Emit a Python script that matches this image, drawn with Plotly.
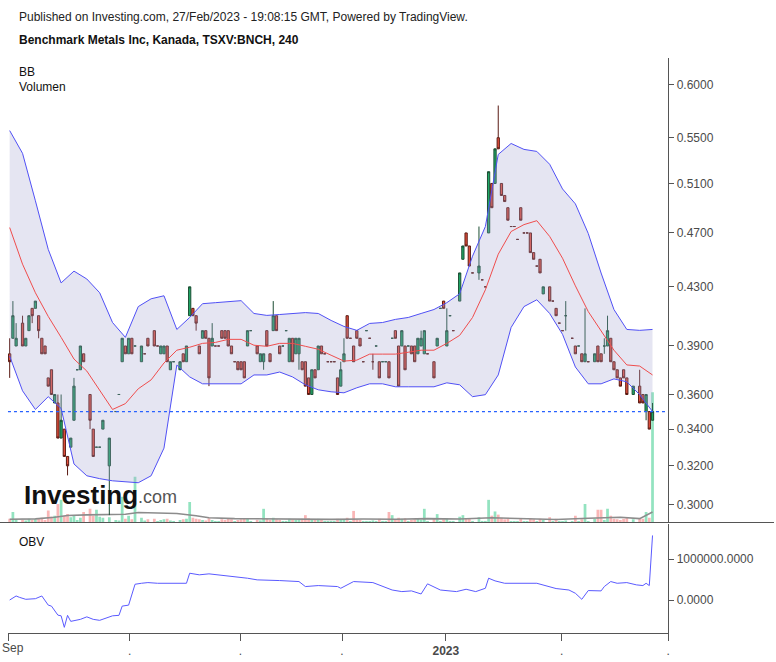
import plotly.graph_objects as go

# ---------------- data (4h bars, index = bar number) ----------------
open_ = [
    0.385, 0.395, 0.39, None, 0.405, 0.39, 0.40, 0.415, 0.415, 0.41,
    0.395, 0.39, 0.37, 0.375, 0.355, 0.355, 0.335, 0.34, 0.325, 0.33,
    0.345, 0.375, 0.375, 0.385, None, 0.36, 0.34, 0.33, 0.33, 0.34,
    None, 0.32, None, 0.35, 0.36, 0.38, 0.39, 0.385, 0.395, 0.39,
    None, 0.38, 0.385, 0.395, None, 0.40, 0.39, 0.385, 0.385, 0.39,
    0.375, 0.38, None, 0.375, 0.385, 0.38, 0.41, 0.415, 0.41, 0.39,
    0.395, 0.40, 0.395, 0.39, 0.39, 0.39, 0.40, 0.40, 0.40, 0.39,
    0.38, 0.38, 0.38, 0.38, 0.39, 0.40, None, 0.39, 0.38, 0.38,
    0.40, 0.385, 0.40, 0.41, 0.39, 0.39, 0.40, 0.38, 0.395, 0.385,
    0.385, 0.38, 0.38, 0.37, 0.36, 0.375, 0.375, 0.39, 0.385, 0.38,
    0.38, 0.38, 0.37, 0.365, 0.38, 0.41, 0.395, 0.39, 0.40, 0.395,
    0.38, 0.40, 0.395, 0.38, 0.39, 0.38, 0.38, 0.38, 0.38, 0.395,
    0.40, 0.39, 0.39, 0.39, 0.39, 0.39, 0.39, 0.385, 0.39, 0.385,
    0.385, None, 0.38, 0.39, 0.415, 0.42, 0.39, 0.41, 0.40, None,
    0.42, 0.45, 0.47, 0.46, 0.44, None, 0.44, 0.435, 0.43, 0.47,
    0.51, 0.51, 0.55, 0.51, 0.50, 0.49, 0.475, 0.475, 0.465, 0.49,
    0.47, 0.47, 0.47, 0.455, 0.445, 0.45, 0.425, None, 0.43, 0.42,
    0.415, 0.405, 0.40, 0.41, None, 0.395, 0.39, 0.39, 0.385, 0.38,
    0.38, None, 0.38, 0.39, 0.385, 0.39, 0.39, 0.395, 0.38, 0.375,
    0.37, 0.375, 0.37, None, 0.36, None, 0.365, 0.36, 0.35, 0.35, 0.345,
]
high = [
    0.395, 0.42, 0.405, None, 0.41, 0.395, 0.41, 0.415, 0.42, 0.41,
    0.395, 0.39, 0.37, 0.375, 0.36, 0.36, 0.36, 0.34, 0.325, 0.335,
    0.37, 0.375, 0.39, 0.385, None, 0.36, 0.34, 0.33, 0.33, 0.345,
    None, 0.335, None, 0.35, 0.36, 0.395, 0.39, 0.395, 0.395, 0.39,
    None, 0.39, 0.385, 0.395, None, 0.40, 0.39, 0.39, 0.39, 0.39,
    0.38, 0.38, None, 0.38, 0.385, 0.39, 0.43, 0.415, 0.41, 0.39,
    0.40, 0.40, 0.395, 0.405, 0.39, 0.39, 0.40, 0.40, 0.40, 0.39,
    0.38, 0.38, 0.38, 0.38, 0.40, 0.40, None, 0.39, 0.385, 0.385,
    0.40, 0.385, 0.42, 0.41, 0.39, 0.39, 0.40, 0.395, 0.395, 0.395,
    0.395, 0.38, 0.38, 0.37, 0.375, 0.375, 0.39, 0.39, 0.385, 0.38,
    0.38, 0.38, 0.37, 0.38, 0.395, 0.41, 0.395, 0.39, 0.40, 0.395,
    0.38, 0.40, 0.395, 0.385, 0.39, 0.38, 0.38, 0.38, 0.38, 0.395,
    0.40, 0.39, 0.40, 0.39, 0.39, 0.39, 0.39, 0.395, 0.40, 0.40,
    0.385, None, 0.38, 0.395, 0.415, 0.42, 0.415, 0.41, 0.40, None,
    0.44, 0.46, 0.47, 0.46, 0.44, None, 0.475, 0.435, 0.43, 0.52,
    0.51, 0.54, 0.58, 0.51, 0.50, 0.49, 0.475, 0.475, 0.465, 0.49,
    0.47, 0.47, 0.47, 0.455, 0.445, 0.45, 0.43, None, 0.43, 0.42,
    0.415, 0.405, 0.40, 0.42, None, 0.395, 0.39, 0.39, 0.385, 0.415,
    0.38, None, 0.385, 0.39, 0.385, 0.395, 0.41, 0.395, 0.38, 0.375,
    0.37, 0.375, 0.37, None, 0.365, None, 0.375, 0.36, 0.36, 0.35, 0.355,
]
low = [
    0.37, 0.395, 0.39, None, 0.39, 0.39, 0.40, 0.405, 0.415, 0.395,
    0.385, 0.385, 0.365, 0.36, 0.355, 0.335, 0.335, 0.325, 0.315, 0.33,
    0.345, 0.375, 0.375, 0.38, None, 0.34, 0.325, 0.33, 0.33, 0.34,
    None, 0.295, None, 0.35, 0.36, 0.38, 0.385, 0.385, 0.385, 0.39,
    None, 0.38, 0.385, 0.39, None, 0.39, 0.39, 0.385, 0.385, 0.38,
    0.375, 0.38, None, 0.375, 0.38, 0.38, 0.41, 0.41, 0.40, 0.385,
    0.395, 0.395, 0.365, 0.39, 0.39, 0.39, 0.395, 0.395, 0.39, 0.385,
    0.38, 0.375, 0.375, 0.37, 0.39, 0.40, None, 0.385, 0.38, 0.375,
    0.39, 0.38, 0.40, 0.40, 0.385, 0.39, 0.40, 0.38, 0.38, 0.385,
    0.375, 0.375, 0.365, 0.36, 0.36, 0.37, 0.375, 0.385, 0.385, 0.38,
    0.38, 0.38, 0.36, 0.365, 0.38, 0.395, 0.395, 0.38, 0.395, 0.39,
    0.38, 0.40, 0.395, 0.375, 0.39, 0.37, 0.38, 0.38, 0.37, 0.395,
    0.395, 0.365, 0.39, 0.375, 0.39, 0.385, 0.38, 0.385, 0.39, 0.385,
    0.385, None, 0.37, 0.39, 0.415, 0.415, 0.39, 0.41, 0.40, None,
    0.42, 0.45, 0.46, 0.445, 0.44, None, 0.435, 0.435, 0.43, 0.47,
    0.49, 0.51, 0.54, 0.50, 0.495, 0.48, 0.475, 0.475, 0.465, 0.48,
    0.47, 0.47, 0.455, 0.45, 0.445, 0.44, 0.425, None, 0.42, 0.42,
    0.41, 0.405, 0.40, 0.40, None, 0.395, 0.385, 0.39, 0.38, 0.38,
    0.38, None, 0.38, 0.38, 0.38, 0.385, 0.39, 0.38, 0.375, 0.37,
    0.365, 0.37, 0.36, None, 0.36, None, 0.355, 0.355, 0.345, 0.34, 0.345,
]
close = [
    0.38, 0.41, 0.395, None, 0.39, 0.395, 0.41, 0.41, 0.42, 0.40,
    0.385, 0.385, 0.365, 0.36, 0.36, 0.335, 0.345, 0.325, 0.32, 0.335,
    0.365, 0.375, 0.39, 0.38, None, 0.345, 0.325, 0.33, 0.33, 0.345,
    None, 0.335, None, 0.35, 0.36, 0.395, 0.385, 0.395, 0.385, 0.39,
    None, 0.39, 0.385, 0.39, None, 0.39, 0.39, 0.39, 0.39, 0.38,
    0.38, 0.38, None, 0.38, 0.38, 0.39, 0.43, 0.41, 0.405, 0.385,
    0.40, 0.395, 0.37, 0.395, 0.39, 0.39, 0.395, 0.395, 0.39, 0.385,
    0.38, 0.375, 0.375, 0.37, 0.40, 0.40, None, 0.385, 0.385, 0.385,
    0.39, 0.38, 0.41, 0.40, 0.385, 0.39, 0.40, 0.395, 0.38, 0.395,
    0.395, 0.375, 0.365, 0.36, 0.375, 0.37, 0.39, 0.385, 0.385, 0.38,
    0.38, 0.38, 0.36, 0.375, 0.385, 0.395, 0.395, 0.38, 0.395, 0.39,
    0.38, 0.40, 0.395, 0.38, 0.39, 0.37, 0.38, 0.38, 0.37, 0.395,
    0.395, 0.365, 0.40, 0.375, 0.39, 0.385, 0.38, 0.395, 0.395, 0.40,
    0.385, None, 0.37, 0.395, 0.415, 0.415, 0.40, 0.41, 0.40, None,
    0.44, 0.46, 0.46, 0.445, 0.44, None, 0.445, 0.435, 0.43, 0.52,
    0.49, 0.54, 0.54, 0.50, 0.495, 0.48, 0.475, 0.475, 0.465, 0.48,
    0.47, 0.47, 0.455, 0.45, 0.445, 0.44, 0.43, None, 0.42, 0.42,
    0.41, 0.405, 0.40, 0.41, None, 0.395, 0.385, 0.39, 0.38, 0.385,
    0.38, None, 0.385, 0.38, 0.38, 0.39, 0.40, 0.38, 0.375, 0.37,
    0.365, 0.37, 0.36, None, 0.365, None, 0.355, 0.355, 0.36, 0.34, 0.35,
]
volume = [
    30000, 95000, 25000, None, 20000, 15000, 30000, 20000, 25000, 35000,
    40000, 20000, 110000, 50000, 60000, 170000, 210000, 60000, 75000, 45000,
    65000, 20000, 40000, 95000, None, 125000, 60000, 115000, 50000, 40000,
    None, 45000, None, 20000, 15000, 240000, 30000, 60000, 25000, 430000,
    None, 40000, 15000, 25000, None, 30000, 10000, 20000, 25000, 30000,
    15000, 10000, None, 20000, 25000, 30000, 190000, 40000, 30000, 25000,
    20000, 15000, 35000, 20000, 10000, 10000, 25000, 20000, 30000, 25000,
    10000, 20000, 25000, 35000, 30000, 10000, None, 20000, 15000, 125000,
    30000, 20000, 40000, 25000, 20000, 10000, 10000, 30000, 25000, 20000,
    25000, 30000, 65000, 35000, 20000, 25000, 30000, 20000, 10000, 10000,
    10000, 10000, 30000, 25000, 20000, 40000, 10000, 105000, 25000, 20000,
    10000, 10000, 10000, 15000, 10000, 30000, 10000, 10000, 95000, 65000,
    20000, 40000, 30000, 35000, 10000, 20000, 25000, 30000, 20000, 125000,
    10000, None, 30000, 75000, 10000, 25000, 35000, 10000, 10000, None,
    50000, 65000, 30000, 35000, 10000, None, 45000, 10000, 10000, 210000,
    60000, 100000, 70000, 40000, 25000, 35000, 10000, 10000, 10000, 30000,
    10000, 10000, 35000, 25000, 10000, 30000, 20000, None, 45000, 10000,
    30000, 10000, 10000, 15000, None, 10000, 60000, 10000, 25000, 170000,
    10000, None, 30000, 115000, 115000, 20000, 125000, 60000, 30000, 25000,
    20000, 30000, 40000, None, 25000, None, 35000, 30000, 95000, 40000, 1230000,
]

# volume moving average
vma_idx = [0, 8, 14, 18, 24, 30, 36, 40, 46, 52, 58, 62, 70, 80, 90, 100, 110,
           120, 130, 140, 150, 160, 170, 180, 190, 196, 200]
vma_val = [26000, 30000, 45000, 62000, 68000, 70000, 74000, 90000, 85000, 80000,
           60000, 40000, 32000, 28000, 26000, 25000, 28000, 26000, 32000, 28000,
           40000, 32000, 24000, 35000, 45000, 32000, 95000]

# Bollinger bands (every 4th bar)
bb_idx = list(range(0, 201, 4))
bb_upper = [
    0.5565, 0.536, 0.4956, 0.4574, 0.4328, 0.4413, 0.4356, 0.4258, 0.4054, 0.3956,
    0.4162, 0.4216, 0.4237, 0.4008, 0.4088, 0.4182, 0.4189, 0.4196, 0.4203, 0.4115,
    0.4102, 0.4108, 0.4115, 0.4121, 0.4115, 0.4068, 0.4028, 0.4002, 0.4048, 0.4054,
    0.4075, 0.4088, 0.4115, 0.4142, 0.4189, 0.4251, 0.4523, 0.4750, 0.5350, 0.5448,
    0.5395, 0.5377, 0.5264, 0.5054, 0.4931, 0.4696, 0.4399, 0.4142, 0.4008, 0.4002,
    0.4008,
]
bb_mid = [
    0.4742, 0.4464, 0.4258, 0.4095, 0.3956, 0.3817, 0.3742, 0.3628, 0.3512, 0.3546,
    0.3634, 0.3688, 0.3792, 0.3873, 0.3892, 0.3917, 0.3923, 0.3943, 0.3943, 0.3905,
    0.3898, 0.3917, 0.3917, 0.3898, 0.3879, 0.3841, 0.3804, 0.3810, 0.3848, 0.3848,
    0.3848, 0.3860, 0.3873, 0.3873, 0.3917, 0.3969, 0.4088, 0.4279, 0.4538, 0.4711,
    0.4765, 0.4796, 0.4673, 0.4508, 0.4307, 0.4128, 0.4002, 0.3873, 0.3780, 0.3773,
    0.3718,
]
bb_lower = [
    0.3835, 0.3622, 0.3512, 0.3587, 0.3518, 0.3210, 0.3148, 0.3133, 0.3122, 0.3117,
    0.3112, 0.3148, 0.3295, 0.3779, 0.3706, 0.3664, 0.3664, 0.3664, 0.3664, 0.3718,
    0.3718, 0.3736, 0.3706, 0.3658, 0.3628, 0.3616, 0.3610, 0.3640, 0.3664, 0.3664,
    0.3646, 0.3646, 0.3646, 0.3646, 0.3670, 0.3658, 0.3587, 0.3599, 0.3718, 0.4021,
    0.4162, 0.4209, 0.4115, 0.3976, 0.3767, 0.3664, 0.3664, 0.3694, 0.3676, 0.3599,
    0.3500,
]

# On-balance volume
obv_idx = [0, 2, 3, 5, 8, 10, 12, 13, 15, 16, 17, 18, 19, 22, 24, 26, 28, 30, 32, 34,
           35, 37, 39, 41, 43, 46, 55, 56, 59, 62, 65, 70, 74, 77, 81, 84, 90, 92, 96, 102,
           103, 107, 113, 116, 119, 122, 125, 128, 130, 134, 139, 142, 145, 148, 149, 151,
           154, 164, 167, 170, 174, 176, 178, 180, 184, 185, 187, 189, 192, 195, 197, 198,
           199, 200]
obv_val = [0, 98000, 66000, 17000, 32000, 98000, -125000, -149000, -369000, -386000,
           -667000, -374000, -521000, -472000, -411000, -472000, -496000, -435000, -386000, -374000,
           -149000, -125000, 384000, 408000, 425000, 408000, 408000, 653000, 614000, 638000,
           614000, 575000, 531000, 491000, 491000, 474000, 450000, 328000, 352000, 328000,
           286000, 450000, 425000, 328000, 244000, 205000, 222000, 147000, 394000, 244000,
           205000, 262000, 205000, 286000, 531000, 467000, 408000, 408000, 345000, 279000,
           244000, 164000, 17000, 230000, 222000, 328000, 450000, 408000, 425000, 369000,
           352000, 408000, 352000, 1575000]

month_tick_pos = [-0.5, 37.3, 71.8, 103.4, 135.7, 171.7, 204.9]
month_tick_text = ["", ".", ".", ".", "<b>2023</b>", ".", "."]
first_month_label = "Sep"
price_ticks = [0.30, 0.32, 0.34, 0.36, 0.39, 0.43, 0.47, 0.51, 0.55, 0.60]
obv_ticks = [0, 1000000]

# ---------------- figure ----------------
W, H = 776, 662
def fx(p):
    return p / W
def fy(p):
    return 1 - p / H

idx = list(range(len(close)))
valid = [i for i in idx if close[i] is not None]

up_fill, dn_fill = "#1fa866", "#e5513d"
up_line, dn_line = "#1b4d33", "#5a1a13"

vol_x = [i for i in valid]
vol_y = [volume[i] for i in valid]
vol_c = ["rgba(40,200,130,0.5)" if close[i] >= open_[i] else "rgba(245,110,110,0.5)" for i in valid]

fig = go.Figure()
fig.add_trace(go.Bar(x=vol_x, y=vol_y, marker=dict(color=vol_c, line=dict(width=0)),
                     width=0.85, xaxis="x", yaxis="y", showlegend=False, hoverinfo="skip"))
fig.add_trace(go.Scatter(x=vma_idx, y=vma_val, mode="lines", line=dict(color="#8c8c8c", width=1.6),
                         xaxis="x", yaxis="y", showlegend=False, hoverinfo="skip"))

fig.add_trace(go.Scatter(x=bb_idx, y=bb_upper, mode="lines", line=dict(color="#5050f5", width=1),
                         xaxis="x", yaxis="y2", showlegend=False))
fig.add_trace(go.Scatter(x=bb_idx, y=bb_lower, mode="lines", line=dict(color="#5050f5", width=1),
                         fill="tonexty", fillcolor="rgba(160,160,210,0.28)",
                         xaxis="x", yaxis="y2", showlegend=False))
fig.add_trace(go.Scatter(x=bb_idx, y=bb_mid, mode="lines", line=dict(color="#ef4d4d", width=1),
                         xaxis="x", yaxis="y2", showlegend=False))

fig.add_trace(go.Candlestick(
    x=valid,
    open=[open_[i] for i in valid], high=[high[i] for i in valid],
    low=[low[i] for i in valid], close=[close[i] for i in valid],
    increasing=dict(fillcolor=up_fill, line=dict(color=up_line, width=1)),
    decreasing=dict(fillcolor=dn_fill, line=dict(color=dn_line, width=1)),
    whiskerwidth=0, xaxis="x", yaxis="y2", showlegend=False))

fig.add_trace(go.Scatter(x=obv_idx, y=obv_val, mode="lines", line=dict(color="#5a5aff", width=1),
                         xaxis="x", yaxis="y3", showlegend=False))

axis_font = dict(family="Liberation Sans, Arial, sans-serif", size=12, color="#4a4a4a")

fig.update_layout(
    width=W, height=H,
    margin=dict(l=0, r=0, t=0, b=0),
    paper_bgcolor="white", plot_bgcolor="white",
    font=dict(family="Liberation Sans, Arial, sans-serif", size=12, color="#222"),
    boxgap=0.0,
    bargap=0.2,
    xaxis=dict(domain=[fx(8), fx(670)], anchor="y3", range=[-0.53, 204.9],
               tickmode="array", tickvals=month_tick_pos, ticktext=month_tick_text,
               ticks="outside", ticklen=7, tickcolor="#555", showline=True, linecolor="#555",
               showgrid=False, zeroline=False, tickfont=axis_font,
               rangeslider=dict(visible=False)),
    yaxis=dict(domain=[fy(522), fy(58)], anchor="x", range=[0, 4.4e6], visible=False,
               showgrid=False, zeroline=False),
    yaxis2=dict(overlaying="y", anchor="x", side="right", type="log",
                range=[-0.5351, -0.2025], tickmode="array", tickvals=price_ticks,
                ticktext=["%.4f" % v for v in price_ticks], ticks="outside", ticklen=5,
                tickcolor="#555", showline=True, linecolor="#555", showgrid=False,
                zeroline=False, tickfont=axis_font),
    yaxis3=dict(domain=[fy(633), fy(524)], anchor="x", side="right",
                range=[-805000, 1854000], tickmode="array", tickvals=obv_ticks,
                ticktext=["%.4f" % v for v in obv_ticks], ticks="outside", ticklen=5,
                tickcolor="#555", showline=True, linecolor="#555", showgrid=False,
                zeroline=False, tickfont=axis_font),
    shapes=[
        dict(type="line", xref="paper", yref="paper", x0=0, x1=1, y0=fy(522.5), y1=fy(522.5),
             line=dict(color="#555", width=1)),
        dict(type="line", xref="paper", yref="y2", x0=fx(8), x1=fx(668),
             y0=close[-1], y1=close[-1], line=dict(color="#2962ff", width=1.2, dash="dot")),
    ],
    annotations=[
        dict(text="Published on Investing.com, 27/Feb/2023 - 19:08:15 GMT, Powered by TradingView.",
             xref="paper", yref="paper", x=fx(17), y=fy(17), xanchor="left", yanchor="middle",
             showarrow=False, font=dict(size=12, color="#222")),
        dict(text="<b>Benchmark Metals Inc, Kanada, TSXV:BNCH, 240</b>",
             xref="paper", yref="paper", x=fx(17), y=fy(40), xanchor="left", yanchor="middle",
             showarrow=False, font=dict(size=12, color="#111")),
        dict(text="BB", xref="paper", yref="paper", x=fx(17), y=fy(72), xanchor="left",
             yanchor="middle", showarrow=False, font=dict(size=12, color="#111")),
        dict(text="Volumen", xref="paper", yref="paper", x=fx(17), y=fy(87), xanchor="left",
             yanchor="middle", showarrow=False, font=dict(size=12, color="#111")),
        dict(text="OBV", xref="paper", yref="paper", x=fx(17), y=fy(542), xanchor="left",
             yanchor="middle", showarrow=False, font=dict(size=12, color="#111")),
        dict(text=first_month_label, xref="paper", yref="paper", x=0, y=fy(648),
             xanchor="left", yanchor="middle", showarrow=False, font=axis_font),
        dict(text="<b>Investing</b>", xref="paper", yref="paper", x=fx(22), y=fy(495),
             xanchor="left", yanchor="middle", showarrow=False,
             font=dict(size=26, color="#111", family="Liberation Sans, Arial, sans-serif")),
        dict(text=".com", xref="paper", yref="paper", x=fx(136), y=fy(497),
             xanchor="left", yanchor="middle", showarrow=False,
             font=dict(size=18, color="#555", family="Liberation Sans, Arial, sans-serif")),
    ],
)

fig.write_html("out.html", config={"displayModeBar": False},
               post_script="document.body.style.margin='0';document.body.style.overflow='hidden';")
